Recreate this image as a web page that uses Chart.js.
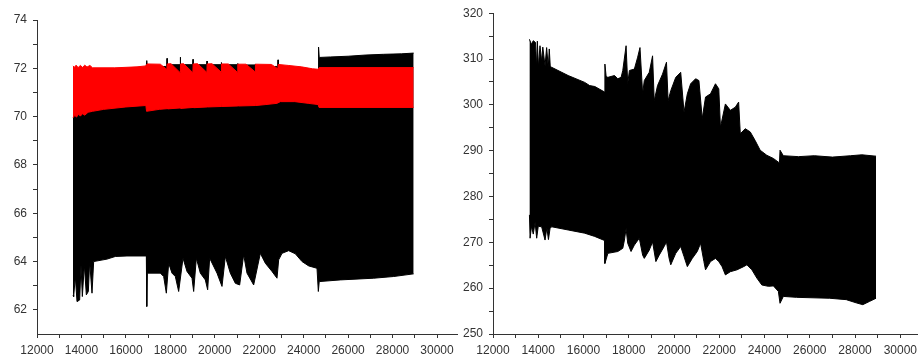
<!DOCTYPE html>
<html>
<head>
<meta charset="utf-8">
<script src="https://cdn.jsdelivr.net/npm/chart.js@4.4.1/dist/chart.umd.min.js"></script>
<style>
  body { margin: 0; background: #fff; }
  #wrap { position: relative; width: 922px; height: 358px; }
  canvas { position: absolute; top: 0; }
  #left-chart { left: 0; }
  #right-chart { left: 460px; }
</style>
</head>
<body>
<div id="wrap">
  <canvas id="left-chart" width="460" height="358"></canvas>
  <canvas id="right-chart" width="462" height="358"></canvas>
</div>
<script>
//  TICK LABELS

var xTickLabels = [12000, 14000, 16000, 18000, 20000, 22000, 24000, 26000, 28000, 30000];
var leftYTickLabels = [62, 64, 66, 68, 70, 72, 74];
var rightYTickLabels = [250, 260, 270, 280, 290, 300, 310, 320];

//  LEFT PANEL - envelopes of the two signals, [x, y]

var leftRedTop = [
    [13620, 72.1], [13680, 72.04], [13760, 72.13], [13850, 72.03], [13950, 72.12],
    [14050, 72.04], [14150, 72.13], [14250, 72.05], [14380, 72.12], [14500, 72.02],
    [15500, 72.02], [16500, 72.06], [16900, 72.1], [16950, 72.18], [17550, 72.17],
    [17845, 71.95], [17855, 72.18], [18030, 72.19], [18445, 71.82], [18455, 72.18],
    [18600, 72.19], [19015, 71.82], [19025, 72.18], [19230, 72.19], [19645, 71.83],
    [19655, 72.18], [19875, 72.19], [20290, 71.84], [20300, 72.18], [20610, 72.18],
    [21025, 71.83], [21035, 72.17], [21405, 72.17], [21820, 71.85], [21830, 72.17],
    [22550, 72.16], [22840, 71.98], [22850, 72.16], [23300, 72.12], [23900, 72.06],
    [24400, 71.98], [24650, 71.96], [24700, 72.03], [28950, 72.03]
];
var leftRedBottom = [
    [13620, 69.95], [13700, 70.05], [13780, 69.98], [13870, 70.1], [13950, 70.02],
    [14050, 70.12], [14150, 70.06], [14300, 70.18], [14500, 70.22], [15000, 70.3],
    [16000, 70.4], [16900, 70.46], [16930, 70.22], [17500, 70.3], [17872, 70.33],
    [17880, 70.5], [17888, 70.32], [18462, 70.36], [18470, 70.52], [18478, 70.34],
    [19042, 70.38], [19050, 70.55], [19058, 70.37], [19672, 70.4], [19680, 70.56],
    [19688, 70.4], [20312, 70.42], [20320, 70.58], [20328, 70.42], [21042, 70.44],
    [21050, 70.6], [21058, 70.44], [21842, 70.46], [21850, 70.6], [21858, 70.46],
    [22300, 70.5], [22800, 70.55], [22950, 70.62], [23600, 70.62], [24200, 70.55],
    [24650, 70.5], [24690, 70.38], [28950, 70.38]
];
var leftBlackTop = [
    [13620, 71.9], [16900, 71.95], [16940, 72.32], [16970, 72.05],
    [17835, 72.08], [17850, 72.41], [17865, 72.05],
    [18030, 72.05], [18050, 72.15], [18440, 72.15], [18450, 72.46], [18460, 72.05],
    [18600, 72.05], [18620, 72.15], [19010, 72.15], [19020, 72.37], [19030, 72.05],
    [19230, 72.05], [19250, 72.15], [19640, 72.15], [19650, 72.3], [19660, 72.05],
    [19875, 72.05], [19895, 72.15], [20285, 72.15], [20295, 72.24], [20305, 72.05],
    [20610, 72.05], [20630, 72.15], [21020, 72.15], [21030, 72.2], [21040, 72.05],
    [21405, 72.05], [21425, 72.14], [21815, 72.14], [21825, 72.18], [21835, 72.05],
    [22830, 72.08], [22845, 72.35], [22860, 72.05], [22900, 72.0],
    [24650, 71.9], [24670, 72.88], [24700, 72.45], [25200, 72.47], [26000, 72.5],
    [26800, 72.55], [27600, 72.58], [28400, 72.6], [28950, 72.63]
];
var leftBlackBottom = [
    [13620, 62.6], [13650, 62.55], [13725, 63.38], [13800, 62.34], [13920, 62.41],
    [13980, 63.86], [14040, 62.55], [14130, 63.86], [14220, 62.62], [14310, 62.76],
    [14370, 64.0], [14475, 62.69], [14550, 64.0], [15150, 64.1], [15525, 64.21],
    [16050, 64.23], [16920, 64.23], [16940, 62.14], [16965, 63.52], [17550, 63.52],
    [17700, 63.38], [17820, 62.69], [17925, 63.93], [18075, 63.52], [18225, 63.38],
    [18375, 62.76], [18570, 64.14], [18750, 63.59], [18975, 63.31], [19050, 62.76],
    [19170, 64.14], [19350, 63.52], [19575, 63.24], [19680, 62.83], [19770, 64.14],
    [20100, 63.52], [20325, 62.97], [20475, 64.21], [20700, 63.52], [20925, 63.1],
    [21120, 63.03], [21300, 64.28], [21450, 63.52], [21750, 63.03], [22050, 64.34],
    [22275, 63.93], [22575, 63.59], [22800, 63.31], [22875, 64.07], [23025, 64.34],
    [23325, 64.45], [23625, 64.32], [23925, 64.0], [24225, 63.82], [24600, 63.72],
    [24660, 62.76], [24700, 63.17], [25650, 63.24], [27150, 63.31], [28050, 63.38],
    [28950, 63.49]
];

//  RIGHT PANEL - envelope of the signal

var rightTop = [
    [13610, 314.3], [13700, 313.2], [13780, 314.0], [13880, 313.6], [13930, 308.0],
    [13960, 313.9], [14004, 308.2], [14077, 312.9], [14150, 309.5], [14200, 312.6],
    [14300, 308.5], [14370, 312.5], [14443, 308.2], [14487, 312.2], [14530, 308.4],
    [14590, 308.2], [15321, 306.4], [16053, 304.9], [16272, 304.2], [16500, 304.0],
    [16930, 302.8], [16945, 308.9], [17000, 306.2], [17077, 306.0], [17369, 306.4],
    [17515, 305.7], [17662, 306.0], [17735, 307.5], [17881, 312.9], [17954, 304.6],
    [18028, 307.5], [18247, 307.8], [18393, 310.4], [18496, 312.5], [18613, 302.4],
    [18686, 305.3], [18905, 307.1], [19052, 310.7], [19125, 300.9], [19271, 304.2],
    [19491, 306.7], [19666, 309.3], [19739, 300.9], [19856, 303.1], [20076, 306.0],
    [20295, 307.1], [20442, 298.4], [20588, 302.4], [20734, 304.6], [20954, 305.7],
    [21100, 305.3], [21246, 297.0], [21392, 301.7], [21612, 302.4], [21831, 304.6],
    [21978, 303.5], [22051, 295.1], [22270, 300.2], [22490, 298.8], [22709, 299.5],
    [22855, 300.6], [22929, 293.7], [23148, 294.8], [23368, 294.1], [23587, 292.2],
    [23807, 290.1], [24099, 289.0], [24392, 288.3], [24611, 287.5], [24660, 287.4],
    [24684, 290.1], [24831, 288.9], [25500, 288.7], [26200, 288.9], [27000, 288.6],
    [27800, 288.9], [28300, 289.1], [28927, 288.8]
];
var rightBottom = [
    [13610, 276.0], [13639, 270.9], [13700, 273.5], [13780, 271.8], [13860, 274.4],
    [13930, 270.9], [14000, 273.5], [14150, 273.4], [14300, 270.5], [14380, 273.2],
    [14450, 270.6], [14520, 273.0], [14590, 273.4], [15321, 272.7], [16053, 272.0],
    [16492, 271.3], [16930, 270.4], [16945, 265.4], [17077, 267.6], [17515, 268.0],
    [17735, 268.7], [17808, 270.5], [17881, 273.0], [17954, 269.8], [18100, 268.0],
    [18247, 269.4], [18466, 270.9], [18613, 267.2], [18686, 266.5], [18905, 268.3],
    [19052, 270.1], [19198, 265.8], [19344, 267.2], [19564, 269.1], [19666, 270.1],
    [19783, 266.5], [19856, 265.1], [20076, 267.6], [20295, 269.1], [20442, 266.9],
    [20588, 264.7], [20807, 266.5], [21027, 268.0], [21173, 269.8], [21320, 265.8],
    [21392, 264.0], [21612, 265.8], [21831, 266.5], [21978, 265.8], [22124, 264.7],
    [22270, 262.9], [22490, 263.6], [22782, 264.0], [23075, 264.7], [23221, 265.1],
    [23441, 264.0], [23660, 262.2], [23880, 260.7], [24172, 260.4], [24392, 260.5],
    [24611, 259.3], [24684, 256.7], [24831, 258.2], [25416, 258.0], [26879, 257.8],
    [27610, 257.5], [28049, 256.8], [28342, 256.4], [28635, 257.1], [28927, 257.8]
];

function toPoints(list) {
    return list.map(function(p) { return { x: p[0], y: p[1] }; });
}

function band(data, color, target, order) {
    return {
        data: toPoints(data),
        borderColor: color,
        backgroundColor: color,
        borderWidth: 1,
        pointRadius: 0,
        tension: 0,
        fill: target === null ? false : { target: target },
        order: order
    };
}

// major ticks carry a label, one minor tick sits halfway between them
function withMinor(labels, upTo) {
    var half = (labels[1] - labels[0]) / 2;
    var out = [];
    labels.forEach(function(v) {
        out.push({ value: v });
        if (v + half <= upTo) out.push({ value: v + half });
    });
    return out;
}

var tickFont = { family: "'Liberation Sans', Arial, sans-serif", size: 12 };

function buildOptions(cfg) {
    return {
        responsive: false,
        animation: false,
        devicePixelRatio: 1,
        layout: { autoPadding: false, padding: cfg.padding },
        plugins: { legend: { display: false }, tooltip: { enabled: false } },
        scales: {
            x: {
                type: 'linear',
                min: 12000,
                max: cfg.xMax,
                afterBuildTicks: function(scale) { scale.ticks = withMinor(xTickLabels, cfg.xMax); },
                afterFit: function(scale) { scale.height = 24; },
                border: { color: '#333', width: 1 },
                grid: { drawOnChartArea: false, tickLength: 4, tickColor: '#333' },
                ticks: {
                    autoSkip: false,
                    maxRotation: 0,
                    padding: 5,
                    color: '#333',
                    font: tickFont,
                    callback: function(v) { return xTickLabels.includes(v) ? String(v) : ''; }
                }
            },
            y: {
                min: cfg.yMin,
                max: cfg.yMax,
                afterBuildTicks: function(scale) { scale.ticks = withMinor(cfg.yLabels, cfg.yMax); },
                afterFit: function(scale) { scale.width = cfg.yWidth; },
                border: { color: '#333', width: 1 },
                grid: { drawOnChartArea: false, tickLength: 4, tickColor: '#333' },
                ticks: {
                    autoSkip: false,
                    padding: 6,
                    color: '#333',
                    font: tickFont,
                    callback: function(v) { return cfg.yLabels.includes(v) ? String(v) : ''; }
                }
            }
        }
    };
}

var leftChart = new Chart(document.getElementById('left-chart'), {
    type: 'line',
    data: {
        datasets: [
            band(leftRedTop, '#ff0000', 1, 0),
            band(leftRedBottom, '#ff0000', null, 0),
            band(leftBlackTop, '#000000', 3, 1),
            band(leftBlackBottom, '#000000', null, 1)
        ]
    },
    options: buildOptions({
        padding: { left: 0, top: 20, right: 3, bottom: 0 },
        xMax: 30900, yMin: 61, yMax: 74,
        yLabels: leftYTickLabels, yWidth: 37
    })
});

var rightChart = new Chart(document.getElementById('right-chart'), {
    type: 'line',
    data: {
        datasets: [
            band(rightTop, '#000000', 1, 0),
            band(rightBottom, '#000000', null, 0)
        ]
    },
    options: buildOptions({
        padding: { left: 0, top: 12, right: 0, bottom: 0 },
        xMax: 30750, yMin: 250, yMax: 320,
        yLabels: rightYTickLabels, yWidth: 33
    })
});
</script>
</body>
</html>
